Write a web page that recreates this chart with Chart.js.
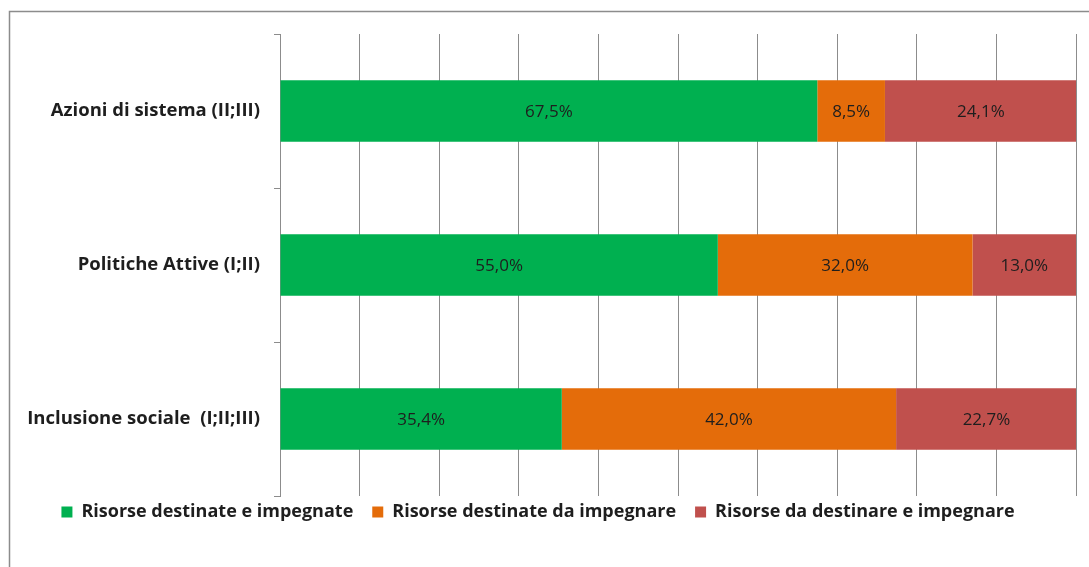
<!DOCTYPE html>
<html>
<head>
<meta charset="utf-8">
<script src="https://cdn.jsdelivr.net/npm/chart.js@4/dist/chart.umd.min.js"></script>
<style>
  html, body { margin: 0; padding: 0; background: #fff; }
  #wrap { position: relative; width: 1089px; height: 567px; }
</style>
</head>
<body>
<div id="wrap"><canvas id="chart" width="1089" height="567"></canvas></div>
<script>
// dati
const categories = ["Azioni di sistema (II;III)", "Politiche Attive (I;II)", "Inclusione sociale  (I;II;III)"];
const seriesNames = ["Risorse destinate e impegnate", "Risorse destinate da impegnare", "Risorse da destinare e impegnare"];
const impegnate = [67.5, 55.0, 35.4];
const daImpegnare = [8.5, 32.0, 42.0];
const daDestinare = [24.1, 13.0, 22.7];
const seriesColors = ["#00B050", "#E46C0A", "#C0504D"];

const FONT = "'Open Sans', 'Liberation Sans', sans-serif";
const GRID = "#8c8c8c";

const fmt = (v) => v.toFixed(1).replace(".", ",") + "%";

// cornice del grafico (solo bordo sinistro e superiore visibili)
const framePlugin = {
  id: "frame",
  beforeDraw(chart) {
    const c = chart.ctx;
    c.save();
    c.strokeStyle = GRID;
    c.lineWidth = 1.5;
    c.strokeRect(9.5, 11.5, 1200, 700);
    c.restore();
  }
};

// la legenda sta un po' più in alto, vicino all'asse
const legendShift = {
  id: "legendShift",
  afterLayout(chart) {
    chart.legend.top -= 12;
    chart.legend.bottom -= 12;
  }
};

// etichette dei valori al centro di ogni segmento
const labelPlugin = {
  id: "valueLabels",
  afterDatasetsDraw(chart) {
    const c = chart.ctx;
    c.save();
    c.font = "17px " + FONT;
    c.fillStyle = "#1e1e1e";
    c.textAlign = "center";
    c.textBaseline = "middle";
    chart.data.datasets.forEach((ds, i) => {
      chart.getDatasetMeta(i).data.forEach((bar, j) => {
        const x = (bar.x + bar.base) / 2;
        c.fillText(fmt(ds.data[j]), x, bar.y + 1);
      });
    });
    c.restore();
  }
};

const data = {
  labels: categories,
  datasets: [impegnate, daImpegnare, daDestinare].map((vals, i) => ({
    label: seriesNames[i],
    data: vals,
    backgroundColor: seriesColors[i],
    borderWidth: 0,
    barPercentage: 0.4,
    categoryPercentage: 1
  }))
};

new Chart(document.getElementById("chart"), {
  type: "bar",
  data: data,
  options: {
    indexAxis: "y",
    responsive: false,
    animation: false,
    layout: { padding: { top: 34, right: 13, left: 0, bottom: 24 } },
    scales: {
      x: {
        stacked: true,
        min: 0,
        max: 100,
        ticks: { display: false, stepSize: 10 },
        grid: { color: GRID, drawTicks: false },
        border: { display: false }
      },
      y: {
        stacked: true,
        afterFit: (s) => { s.width = 280; },
        ticks: { color: "#1e1e1e", font: { family: FONT, size: 18.5, weight: "bold" }, padding: 14 },
        grid: { drawOnChartArea: false, tickLength: 6, color: GRID },
        border: { color: GRID }
      }
    },
    plugins: {
      legend: {
        position: "bottom",
        labels: {
          boxWidth: 11,
          boxHeight: 11,
          color: "#1e1e1e",
          padding: 19,
          font: { family: FONT, size: 18, weight: "bold" }
        }
      },
      tooltip: { enabled: false }
    }
  },
  plugins: [framePlugin, legendShift, labelPlugin]
});
</script>
</body>
</html>
